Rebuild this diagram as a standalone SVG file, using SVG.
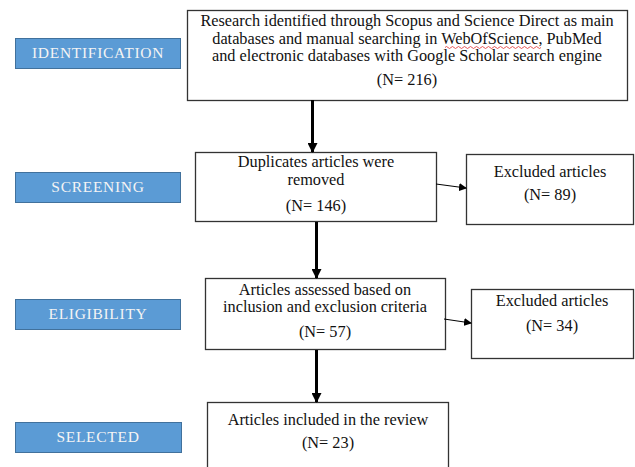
<svg xmlns="http://www.w3.org/2000/svg" width="635" height="467" viewBox="0 0 635 467">
<style>
.box{fill:#ffffff;stroke:#333333;stroke-width:1.3}
.lbl{fill:#5b9bd5;stroke:#41719c;stroke-width:1}
.lt{font-family:"Liberation Serif","Times New Roman","DejaVu Serif",serif;font-size:15.5px;letter-spacing:0.7px;fill:#f4f4f4;text-anchor:middle}
.t{font-family:"Liberation Serif","Times New Roman","DejaVu Serif",serif;font-size:16.3px;fill:#111111;text-anchor:middle}
.v{stroke:#000;stroke-width:3;fill:none}
.h{stroke:#000;stroke-width:1;fill:none}
</style>
<defs>
<marker id="ah" markerWidth="8" markerHeight="8" refX="7" refY="4" orient="auto" markerUnits="userSpaceOnUse"><path d="M0,0 L8,4 L0,8 z" fill="#000"/></marker>
<marker id="av" markerWidth="10" markerHeight="10" refX="9" refY="5" orient="auto" markerUnits="userSpaceOnUse"><path d="M0,0 L10,5 L0,10 z" fill="#000"/></marker>
</defs>
<rect width="635" height="467" fill="#ffffff"/>
<g id="label-identification"><rect class="lbl" x="15.5" y="38.5" width="165" height="30"/><text class="lt" x="98" y="58">IDENTIFICATION</text></g>
<g id="label-screening"><rect class="lbl" x="15.5" y="172.5" width="165" height="30"/><text class="lt" x="98" y="192">SCREENING</text></g>
<g id="label-eligibility"><rect class="lbl" x="15.5" y="299.5" width="165" height="30"/><text class="lt" x="98" y="319">ELIGIBILITY</text></g>
<g id="label-selected"><rect class="lbl" x="15.5" y="422.5" width="166" height="30"/><text class="lt" x="98" y="442">SELECTED</text></g>
<g id="identified"><rect class="box" x="187.5" y="10.5" width="440" height="90"/>
<text class="t" x="407" y="26">Research identified through Scopus and Science Direct as main</text>
<text class="t" x="407" y="43.5">databases and manual searching in WebOfScience, PubMed</text>
<text class="t" x="407" y="61">and electronic databases with Google Scholar search engine</text>
<path d="M445,47.5 q1.5,-2 3,0 t3,0 t3,0 t3,0 t3,0 t3,0 t3,0 t3,0 t3,0 t3,0 t3,0 t3,0 t3,0 t3,0 t3,0 t3,0 t3,0 t3,0 t3,0 t3,0 t3,0 t3,0 t3,0 t3,0 t3,0 t3,0 t3,0 t3,0 t3,0 t3,0 t3,0 t3,0" fill="none" stroke="#e03030" stroke-width="0.8"/>
<text class="t" x="407" y="85">(N= 216)</text></g>
<g id="duplicates"><rect class="box" x="195.5" y="152.5" width="241" height="69"/>
<text class="t" x="316" y="167">Duplicates articles were</text>
<text class="t" x="316" y="184.5">removed</text>
<text class="t" x="316" y="211">(N= 146)</text></g>
<g id="excluded1"><rect class="box" x="466.5" y="154.5" width="167" height="70"/>
<text class="t" x="550" y="177">Excluded articles</text>
<text class="t" x="550" y="200">(N= 89)</text></g>
<g id="assessed"><rect class="box" x="205.5" y="278.5" width="240" height="71"/>
<text class="t" x="325" y="294.5">Articles assessed based on</text>
<text class="t" x="325" y="312">inclusion and exclusion criteria</text>
<text class="t" x="325" y="337">(N= 57)</text></g>
<g id="excluded2"><rect class="box" x="471.5" y="289.5" width="162" height="69"/>
<text class="t" x="552" y="306">Excluded articles</text>
<text class="t" x="552" y="331">(N= 34)</text></g>
<g id="included"><rect class="box" x="207.5" y="402.5" width="241" height="70"/>
<text class="t" x="328" y="425">Articles included in the review</text>
<text class="t" x="328" y="448">(N= 23)</text></g>
<g id="connectors">
<line class="v" x1="312.5" y1="100" x2="312.5" y2="152" marker-end="url(#av)"/>
<line class="v" x1="316.5" y1="222" x2="316.5" y2="278" marker-end="url(#av)"/>
<line class="v" x1="316.5" y1="350" x2="316.5" y2="402" marker-end="url(#av)"/>
<line class="h" x1="436" y1="184" x2="466" y2="188" marker-end="url(#ah)"/>
<line class="h" x1="444" y1="319" x2="471" y2="323" marker-end="url(#ah)"/>
</g>
</svg>
